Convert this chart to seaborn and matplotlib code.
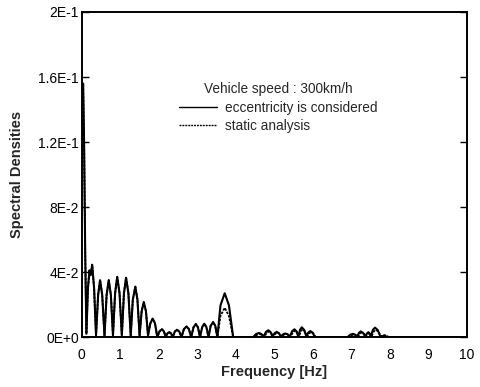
import numpy as np
import pandas as pd
import matplotlib
matplotlib.use("Agg")
import matplotlib.pyplot as plt
import seaborn as sns

# Spectrum below 3.5 Hz: both analyses coincide here
low_freq = [
    0.000, 0.015, 0.035, 0.060, 0.090, 0.120, 0.160, 0.200, 0.230, 0.270,
    0.320, 0.370, 0.425, 0.475, 0.530, 0.590, 0.645, 0.700, 0.755, 0.810,
    0.865, 0.920, 0.980, 1.040, 1.095, 1.150, 1.210, 1.270, 1.325, 1.390,
    1.445, 1.500, 1.555, 1.610, 1.665, 1.720, 1.780, 1.840, 1.900, 1.960,
    2.020, 2.080, 2.130, 2.180, 2.225, 2.270, 2.315, 2.360, 2.415, 2.470,
    2.530, 2.590, 2.650, 2.720, 2.780, 2.840, 2.900, 2.960, 3.015, 3.070,
    3.125, 3.180, 3.235, 3.290, 3.345, 3.410, 3.465, 3.520,
]
low_density = [
    0.1100, 0.1450, 0.1560, 0.1200, 0.0500, 0.0020, 0.0300, 0.0410, 0.0380, 0.0445,
    0.0300, 0.0010, 0.0260, 0.0350, 0.0260, 0.0010, 0.0260, 0.0350, 0.0260, 0.0010,
    0.0270, 0.0370, 0.0270, 0.0010, 0.0270, 0.0365, 0.0270, 0.0010, 0.0230, 0.0310,
    0.0230, 0.0010, 0.0160, 0.0215, 0.0160, 0.0010, 0.0085, 0.0113, 0.0085, 0.0000,
    0.0036, 0.0048, 0.0036, 0.0000, 0.0023, 0.0030, 0.0023, 0.0000, 0.0034, 0.0045,
    0.0034, 0.0000, 0.0049, 0.0065, 0.0049, 0.0000, 0.0060, 0.0080, 0.0060, 0.0000,
    0.0061, 0.0082, 0.0061, 0.0000, 0.0069, 0.0092, 0.0069, 0.0000,
]

# Above 3.5 Hz: eccentricity considered
ecc_freq = [
    3.600, 3.710, 3.820, 3.930, 4.450, 4.525, 4.600, 4.660, 4.720, 4.780,
    4.840, 4.895, 4.950, 5.005, 5.060, 5.115, 5.170, 5.225, 5.280, 5.340,
    5.400, 5.460, 5.520, 5.570, 5.620, 5.665, 5.710, 5.770, 5.830, 5.880,
    5.930, 5.990, 6.050, 6.900, 6.970, 7.040, 7.095, 7.150, 7.195, 7.240,
    7.300, 7.360, 7.400, 7.440, 7.470, 7.500, 7.555, 7.610, 7.680, 7.750,
    7.800, 7.850, 7.950, 10.000,
]
ecc_density = [
    0.0195, 0.0270, 0.0195, 0.0000, 0.0000, 0.0019, 0.0025, 0.0019, 0.0003, 0.0032,
    0.0042, 0.0032, 0.0003, 0.0024, 0.0032, 0.0024, 0.0003, 0.0017, 0.0022, 0.0017,
    0.0003, 0.0036, 0.0048, 0.0036, 0.0003, 0.0045, 0.0060, 0.0045, 0.0003, 0.0028,
    0.0037, 0.0028, 0.0000, 0.0000, 0.0015, 0.0020, 0.0015, 0.0003, 0.0026, 0.0035,
    0.0026, 0.0003, 0.0022, 0.0030, 0.0022, 0.0003, 0.0044, 0.0058, 0.0044, 0.0003,
    0.0006, 0.0008, 0.0000, 0.0000,
]

# Above 3.5 Hz: static analysis
static_freq = [
    3.600, 3.710, 3.820, 3.930, 4.470, 4.545, 4.620, 4.680, 4.740, 4.800,
    4.860, 4.915, 4.970, 5.025, 5.080, 5.135, 5.190, 5.245, 5.300, 5.360,
    5.420, 5.480, 5.540, 5.590, 5.640, 5.685, 5.730, 5.790, 5.850, 5.900,
    5.950, 6.010, 6.070, 6.920, 6.990, 7.060, 7.115, 7.170, 7.215, 7.260,
    7.320, 7.380, 7.420, 7.460, 7.490, 7.520, 7.575, 7.630, 7.700, 7.770,
    7.820, 7.870, 7.970, 10.000,
]
static_density = [
    0.0130, 0.0180, 0.0130, 0.0000, 0.0000, 0.0014, 0.0018, 0.0014, 0.0002, 0.0026,
    0.0035, 0.0026, 0.0002, 0.0021, 0.0028, 0.0021, 0.0002, 0.0015, 0.0020, 0.0015,
    0.0002, 0.0030, 0.0040, 0.0030, 0.0002, 0.0036, 0.0048, 0.0036, 0.0002, 0.0023,
    0.0030, 0.0023, 0.0000, 0.0000, 0.0011, 0.0015, 0.0011, 0.0002, 0.0021, 0.0028,
    0.0021, 0.0002, 0.0019, 0.0025, 0.0019, 0.0002, 0.0034, 0.0045, 0.0034, 0.0002,
    0.0009, 0.0012, 0.0000, 0.0000,
]

x_ticks = [0, 1, 2, 3, 4, 5, 6, 7, 8, 9, 10]
y_ticks = [0.0, 0.04, 0.08, 0.12, 0.16, 0.20]
y_tick_labels = ["0E+0", "4E-2", "8E-2", "1.2E-1", "1.6E-1", "2E-1"]

legend_title = "Vehicle speed : 300km/h"
label_ecc = "eccentricity is considered"
label_static = "static analysis"

sns.set_theme(style="ticks")
plt.rcParams["font.family"] = ["Liberation Sans", "DejaVu Sans"]

ecc_df = pd.DataFrame({"Frequency": low_freq + ecc_freq,
                       "Density": low_density + ecc_density})
static_df = pd.DataFrame({"Frequency": low_freq + static_freq,
                          "Density": low_density + static_density})

fig = plt.figure(figsize=(4.81, 3.87), dpi=100)
ax = fig.add_axes([0.170, 0.129, 0.801, 0.840])

sns.lineplot(data=ecc_df, x="Frequency", y="Density", ax=ax, color="black",
             linewidth=1.5, label=label_ecc, estimator=None)
sns.lineplot(data=static_df, x="Frequency", y="Density", ax=ax, color="black",
             linewidth=1.3, linestyle=(0, (1.4, 0.7)), label=label_static,
             estimator=None)

ax.set_xlim(0, 10)
ax.set_ylim(0, 0.2)
ax.set_xticks(x_ticks)
ax.set_xticklabels([str(t) for t in x_ticks])
ax.set_yticks(y_ticks)
ax.set_yticklabels(y_tick_labels)
ax.tick_params(axis="y", direction="in", length=5, width=1.0, left=True,
               right=True, labelsize=10, pad=2, colors="black")
ax.tick_params(axis="x", length=0, labelsize=10, pad=8, colors="black")
for spine in ax.spines.values():
    spine.set_visible(True)
    spine.set_linewidth(1.4)
    spine.set_color("black")

ax.set_xlabel("Frequency [Hz]", fontsize=10.5, fontweight="bold", labelpad=2)
ax.set_ylabel("Spectral Densities", fontsize=10.5, fontweight="bold", labelpad=10)

leg = ax.legend(title=legend_title, loc="upper center",
                bbox_to_anchor=(0.51, 0.80), frameon=False, fontsize=9.8,
                title_fontsize=9.8, handlelength=2.8, handletextpad=0.6,
                labelspacing=0.3, borderaxespad=0)
leg._legend_box.align = "center"
for line in leg.get_lines():
    line.set_linewidth(1.0)

fig.savefig("out.png", dpi=100)
